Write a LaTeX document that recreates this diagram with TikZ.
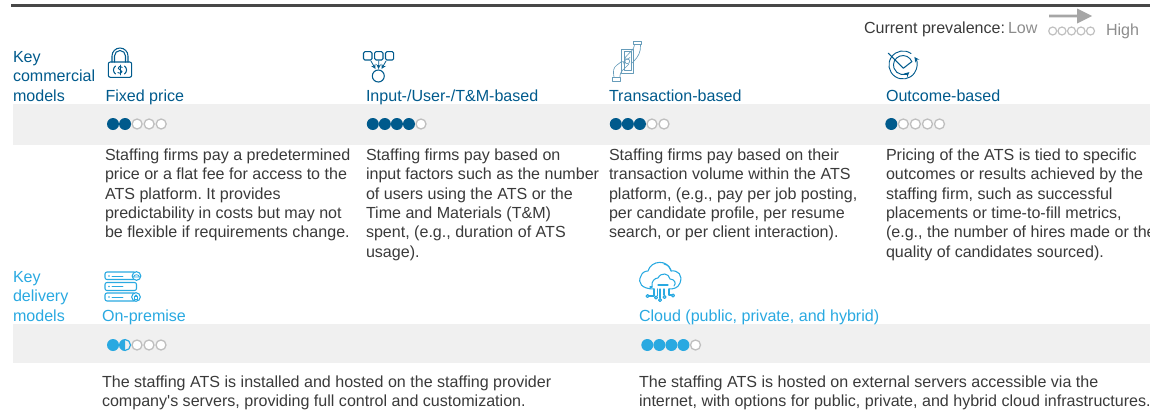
\documentclass[tikz,border=0pt]{standalone}
\usepackage{fontspec}
\setmainfont{Liberation Sans}
\definecolor{navy}{HTML}{005A8C}
\definecolor{sky}{HTML}{29A9E1}
\definecolor{band}{HTML}{F0F0F0}
\definecolor{ringc}{HTML}{BFBFBF}
\definecolor{bodyc}{HTML}{3A3A3A}
\definecolor{lowc}{HTML}{8C8C8C}
\definecolor{arrowc}{HTML}{A6A6A6}
\newcommand{\lineset}{\fontsize{12.05pt}{14.45pt}\selectfont\frenchspacing}
\tikzset{
  txt/.style={inner sep=0pt,outer sep=0pt,anchor=base west,font=\lineset,align=left},
  bodytxt/.style={txt,text=bodyc},
  navytxt/.style={txt,text=navy},
  skytxt/.style={txt,text=sky},
  ring/.style={draw=ringc,line width=0.98pt,fill=white},
  icon/.style={line width=0.8pt,line cap=round,line join=round},
  thinicon/.style={line width=0.5pt,line cap=round,line join=round,draw=navy!60}
}
% \dotrow{x0}{y}{count}{colour}
\newcommand{\dotrow}[4]{%
  \foreach \i in {0,1,2,3,4}{%
    \pgfmathsetmacro{\cx}{#1+12.05*\i}%
    \ifnum\i<#3\relax
      \fill[#4] (\cx,#2) circle[radius=6];%
    \else
      \draw[ring] (\cx,#2) circle[radius=5];%
    \fi
  }%
}
\begin{document}
\begin{tikzpicture}[x=0.75pt,y=-0.75pt]
\useasboundingbox (0,0) rectangle (1150,411);
\clip (0,0) rectangle (1150,411);
% rules and bands
\draw[line width=2pt,draw=black!72] (11,5.3) -- (1150,5.3);
\fill[band] (13,104) rectangle (1150,145);
\fill[band] (13,324) rectangle (1150,363);
% legend
\node[txt,text=bodyc] (legend) at (864,33) {Current prevalence:};
\node[txt,text=lowc] (low) at (1008,33) {Low};
\node[txt,text=lowc] (high) at (1106,35) {High};
\fill[arrowc] (1049,14.7) -- (1077,14.7) -- (1077,8.5) -- (1092,16) -- (1077,23.5) -- (1077,17.3) -- (1049,17.3) -- cycle;
\foreach \cx in {1052.7,1062,1071.5,1081,1090.5}
  \draw[draw=ringc,line width=0.9pt] (\cx,31) circle[radius=4];
% side labels
\node[navytxt] (kcm) at (13,101) {Key\\commercial\\models};
\node[skytxt] (kdm) at (13,321) {Key\\delivery\\models};
% titles
\node[navytxt] (t1) at (105.5,101) {Fixed price};
\node[navytxt] (t2) at (366,101) {Input-/User-/T\&M-based};
\node[navytxt] (t3) at (609,101) {Transaction-based};
\node[navytxt] (t4) at (886,101) {Outcome-based};
\node[skytxt] (t5) at (102,321) {On-premise};
\node[skytxt] (t6) at (639,321) {Cloud (public, private, and hybrid)};
% dots
\dotrow{113}{124}{2}{navy}
\dotrow{372.8}{124}{4}{navy}
\dotrow{615.8}{124}{3}{navy}
\dotrow{891.3}{124}{1}{navy}
\fill[sky] (113,345) circle[radius=6];
\foreach \cx in {137,149,161} \draw[ring] (\cx,345) circle[radius=5];
\fill[sky] (125,339) arc[start angle=-90,end angle=-270,radius=6] -- cycle;
\draw[sky,line width=0.9pt] (125,339.5) arc[start angle=-90,end angle=90,radius=5.5];
\dotrow{647.3}{345}{4}{sky}
% body text
\node[bodytxt] (b1) at (105,237.7) {Staffing firms pay a predetermined\\price or a flat fee for access to the\\ATS platform. It provides\\predictability in costs but may not\\be flexible if requirements change.};
\node[bodytxt] (b2) at (366,257) {Staffing firms pay based on\\input factors such as the number\\of users using the ATS or the\\Time and Materials (T\&M)\\spent, (e.g., duration of ATS\\usage).};
\node[bodytxt] (b3) at (609,237.7) {Staffing firms pay based on their\\transaction volume within the ATS\\platform, (e.g., pay per job posting,\\per candidate profile, per resume\\search, or per client interaction).};
\node[bodytxt] (b4) at (886,257) {Pricing of the ATS is tied to specific\\outcomes or results achieved by the\\staffing firm, such as successful\\placements or time-to-fill metrics,\\(e.g., the number of hires made or the\\quality of candidates sourced).};
\node[bodytxt] (b5) at (102,406.5) {The staffing ATS is installed and hosted on the staffing provider\\company\textquotesingle s servers, providing full control and customization.};
\node[bodytxt] (b6) at (639,406.5) {The staffing ATS is hosted on external servers accessible via the\\internet, with options for public, private, and hybrid cloud infrastructures.};
% lock icon
\begin{scope}[icon,draw=navy]
  \draw[rounded corners=1.5] (108.3,62) rectangle (131.7,77.3);
  \draw (112,62) -- (112,56) arc[start angle=180,end angle=360,radius=8] -- (128,62);
  \draw (114.5,62) -- (114.5,56) arc[start angle=180,end angle=360,radius=5.5] -- (125.5,62);
  \draw (115.4,66.1) .. controls (112.8,68.5) and (112.8,71.5) .. (115.4,73.9);
  \draw (124.6,66.1) .. controls (127.2,68.5) and (127.2,71.5) .. (124.6,73.9);
  \draw[line width=0.7pt] (122.2,67.3) .. controls (120.5,65.5) and (117.8,66.6) .. (118.2,68.4) .. controls (118.6,70.2) and (122,69.8) .. (122,71.6) .. controls (122,73.4) and (119,74) .. (117.8,72.6);
  \draw[line width=0.7pt] (120,65) -- (120,75);
\end{scope}
% input icon
\begin{scope}[icon,draw=navy]
  \draw[rounded corners=1] (363.5,51.7) rectangle (372,60);
  \draw[rounded corners=1] (374.7,51.7) rectangle (383,60);
  \draw[rounded corners=1] (385.5,51.7) rectangle (393.7,60);
  \draw (378.3,76) circle[radius=6];
  \draw[-stealth,line width=0.6pt] (371,61) -- (375.5,69);
  \draw[-stealth,line width=0.6pt] (378.8,61) -- (378.5,69);
  \draw[-stealth,line width=0.6pt] (386,61) -- (381.5,69);
\end{scope}
% transaction icon
\begin{scope}[thinicon]
  \draw (633.5,41.5) -- (641.5,41.5) -- (641.5,44.8) -- (633.5,44.8) -- cycle;
  \draw (612.7,77.3) -- (620.7,77.3) -- (620.7,81.3) -- (612.7,81.3) -- cycle;
  \draw (621.7,49) -- (633.3,49) -- (633.3,73) -- (621.7,73) -- cycle;
  \draw (624,51.5) -- (631,51.5) -- (631,70.5) -- (624,70.5) -- cycle;
  \draw (627.3,61.3) circle[radius=2.4];
  \draw (634.5,44.8) .. controls (634,50) and (630,52) .. (626.5,56) -- (624.5,58.5);
  \draw (624.5,58.5) .. controls (626,60.5) and (628.5,59) .. (630,57.5);
  \draw (640.5,44.8) .. controls (641,52) and (638,57) .. (634,61) -- (631,64);
  \draw (614,77.3) .. controls (613,71) and (613,68) .. (617,65) -- (621,62);
  \draw (619.8,77.3) .. controls (620,72) and (622,71) .. (625,68) -- (629,64);
  \draw (621,62) .. controls (623,60.5) and (625,62) .. (624,64);
\end{scope}
% outcome icon
\begin{scope}[icon,draw=navy]
  \draw[-stealth,line width=0.7pt] (911,53.5) arc[start angle=-55,end angle=-395,radius=14];
  \draw[-stealth,line width=0.7pt] (911.9,61.8) arc[start angle=-20,end angle=-312,radius=9.5];
  \draw (888.3,53.3) -- (903.3,68.3) -- (911.7,61.7);
\end{scope}
% server icon
\begin{scope}[icon,draw=sky]
  \draw[rounded corners=1.5] (105,272) rectangle (136,279.5);
  \draw[rounded corners=1.5] (105,282.5) rectangle (136.5,290.5);
  \draw[rounded corners=1.5] (105,293) rectangle (136,301);
  \filldraw[fill=white] (136.5,276) circle[radius=4.3];
  \filldraw[fill=white] (136,297) circle[radius=4.3];
  \foreach \yy in {276,286.5,297}{
    \fill[sky] (109,\yy) circle[radius=0.9];
    \draw[line width=0.6pt] (112,\yy) -- (123,\yy);
  }
  \draw[line width=0.6pt] (133.5,277) .. controls (134,274) and (139,274) .. (139.5,277) -- cycle;
  \draw[line width=0.6pt] (134.5,296) rectangle (137.5,299);
  \draw[line width=0.6pt] (135,296) arc[start angle=180,end angle=360,radius=1];
\end{scope}
% cloud icon
\begin{scope}[icon,draw=sky]
  \draw (654,289) .. controls (642,289) and (637,283) .. (641,276) .. controls (642,272) and (646,271) .. (648,271) .. controls (651,260) and (668,259) .. (671,271) .. controls (678,270) and (683,275) .. (680,283) .. controls (678,288) and (674,289) .. (669,289);
  \draw (652,287) .. controls (651,281) and (655,278) .. (658,278) .. controls (661,272) and (669,273) .. (670,279) .. controls (674,279) and (677,283) .. (674,286);
  \draw (652,287) -- (650,287);
  \draw (658,285) -- (668,285);
  \draw (664,264) .. controls (668,265) and (670,267) .. (671,270);
  % circuit
  \draw (654,289) -- (654,296) -- (649,296); \draw[fill=white] (647.5,296) circle[radius=1.5];
  \draw (657.5,289) -- (657.5,295.5); \draw[fill=white] (656,297.5) circle[radius=1.5];
  \draw (660,289) -- (660,298); \draw[fill=white] (660,300) circle[radius=1.5];
  \draw (664,289) -- (664,295); \draw[fill=white] (664.5,297) circle[radius=1.5];
  \draw (669,289) -- (669,295) -- (671.5,295); \draw[fill=white] (673,295.5) circle[radius=1.5];
\end{scope}
\end{tikzpicture}
\end{document}
